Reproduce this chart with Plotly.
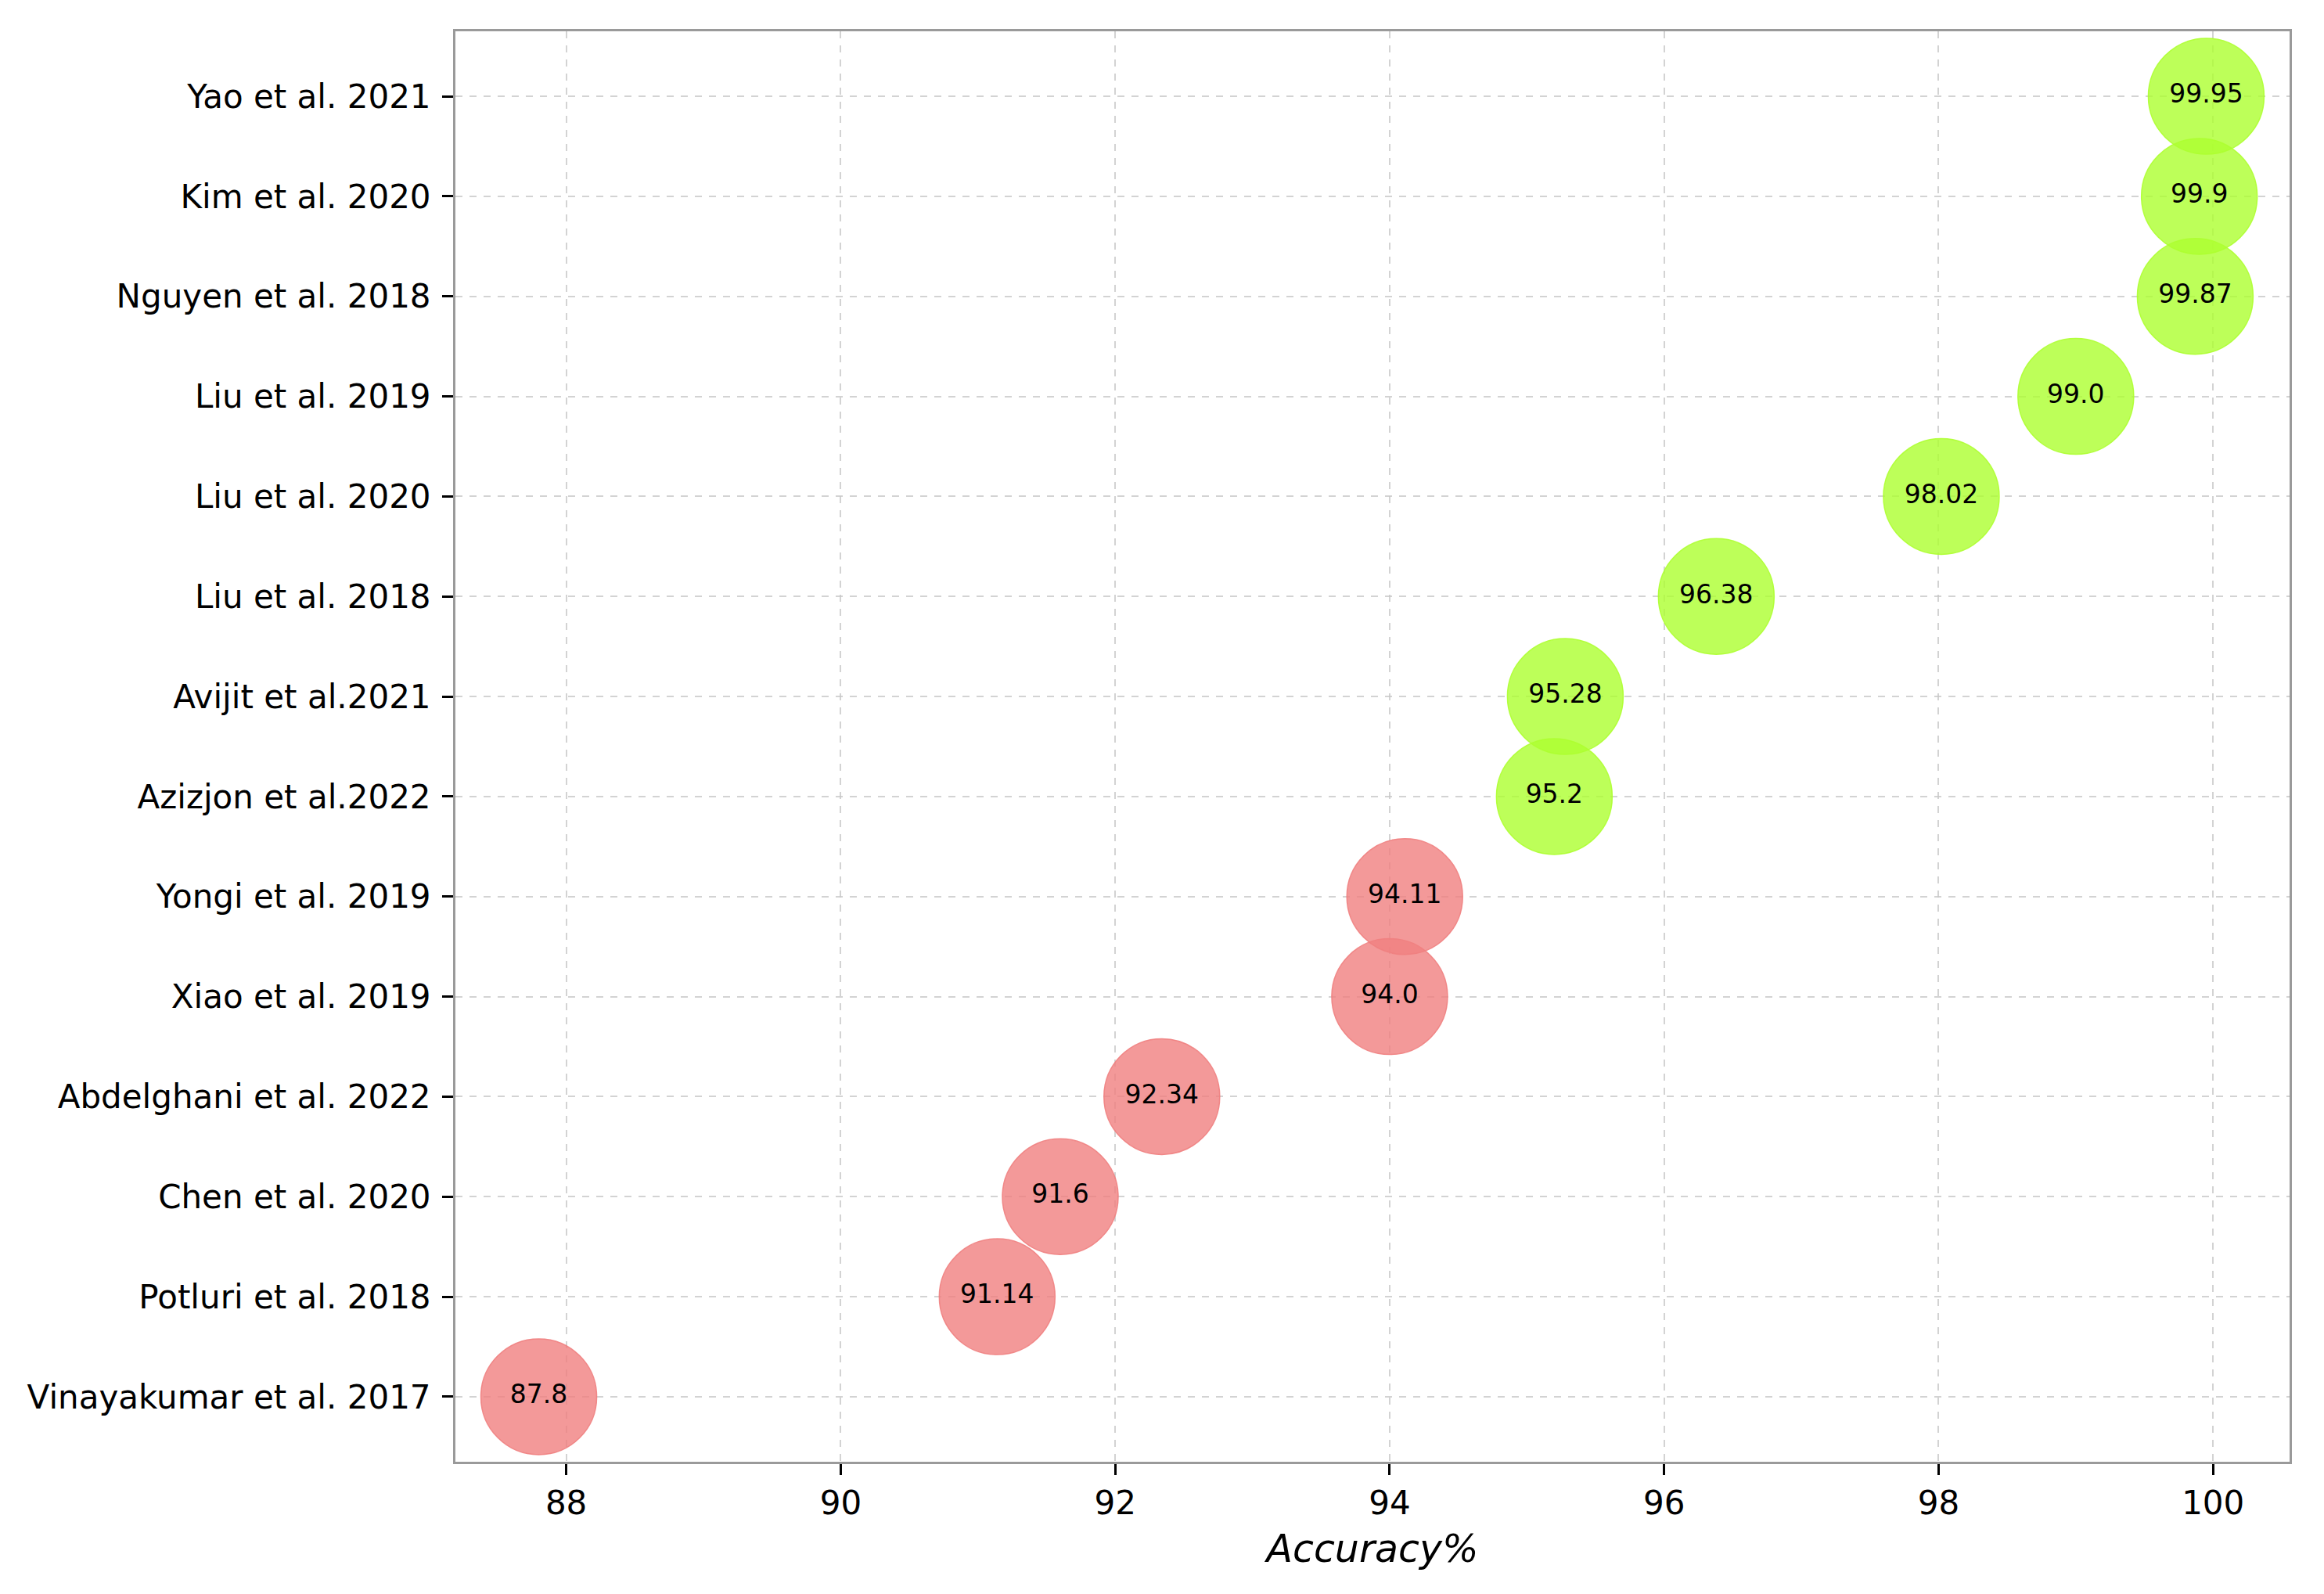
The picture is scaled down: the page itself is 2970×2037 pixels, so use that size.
import plotly.graph_objects as go

# Data (bottom to top order, as plotted)
studies = [
    "Vinayakumar et al. 2017",
    "Potluri et al. 2018",
    "Chen et al. 2020",
    "Abdelghani et al. 2022",
    "Xiao et al. 2019",
    "Yongi et al. 2019",
    "Azizjon et al.2022",
    "Avijit et al.2021",
    "Liu et al. 2018",
    "Liu et al. 2020",
    "Liu et al. 2019",
    "Nguyen et al. 2018",
    "Kim et al. 2020",
    "Yao et al. 2021",
]
accuracy = [87.8, 91.14, 91.6, 92.34, 94.0, 94.11, 95.2, 95.28, 96.38, 98.02, 99.0, 99.87, 99.9, 99.95]
labels = ["87.8", "91.14", "91.6", "92.34", "94.0", "94.11", "95.2", "95.28", "96.38", "98.02", "99.0", "99.87", "99.9", "99.95"]
threshold = 95
x_ticks = [88, 90, 92, 94, 96, 98, 100]

RED = "rgba(240,128,128,0.8)"
GREEN = "rgba(173,255,47,0.8)"
colors = [GREEN if a >= threshold else RED for a in accuracy]
line_colors = ["rgba(173,255,47,0.9)" if a >= threshold else "rgba(240,128,128,0.9)" for a in accuracy]

FONT = "DejaVu Sans"

fig = go.Figure()
fig.add_trace(go.Scatter(
    x=accuracy,
    y=studies,
    mode="markers+text",
    text=labels,
    textposition="middle center",
    textfont=dict(family=FONT, size=33, color="black"),
    marker=dict(size=148, color=colors, line=dict(color=line_colors, width=1.5)),
    showlegend=False,
    cliponaxis=False,
))

lo, hi = min(accuracy), max(accuracy)
pad = 0.05 * (hi - lo)

fig.update_layout(
    width=2954,
    height=2021,
    margin=dict(l=574, r=36, t=32, b=161),
    paper_bgcolor="white",
    plot_bgcolor="white",
    font=dict(family=FONT, color="black"),
    xaxis=dict(
        range=[lo - pad, hi + pad],
        tickvals=x_ticks,
        ticktext=[str(v) for v in x_ticks],
        tickfont=dict(family=FONT, size=42, color="black"),
        showgrid=True,
        gridcolor="rgba(200,200,200,0.8)",
        gridwidth=2,
        griddash="dash",
        zeroline=False,
        ticks="outside",
        ticklen=14,
        tickwidth=3,
        tickcolor="black",
        showline=True,
        linecolor="#9a9a9a",
        linewidth=3,
        mirror=True,
        title=dict(text="<i>Accuracy%</i>", font=dict(family=FONT, size=49, color="black"), standoff=18),
    ),
    yaxis=dict(
        type="category",
        categoryorder="array",
        categoryarray=studies,
        range=[-0.65, len(studies) - 1 + 0.65],
        tickfont=dict(family=FONT, size=42, color="black"),
        showgrid=True,
        gridcolor="rgba(200,200,200,0.8)",
        gridwidth=2,
        griddash="dash",
        zeroline=False,
        ticks="outside",
        ticklen=14,
        tickwidth=3,
        tickcolor="black",
        showline=True,
        linecolor="#9a9a9a",
        linewidth=3,
        mirror=True,
        ticklabelstandoff=6,
    ),
)

fig.write_html("out.html")
